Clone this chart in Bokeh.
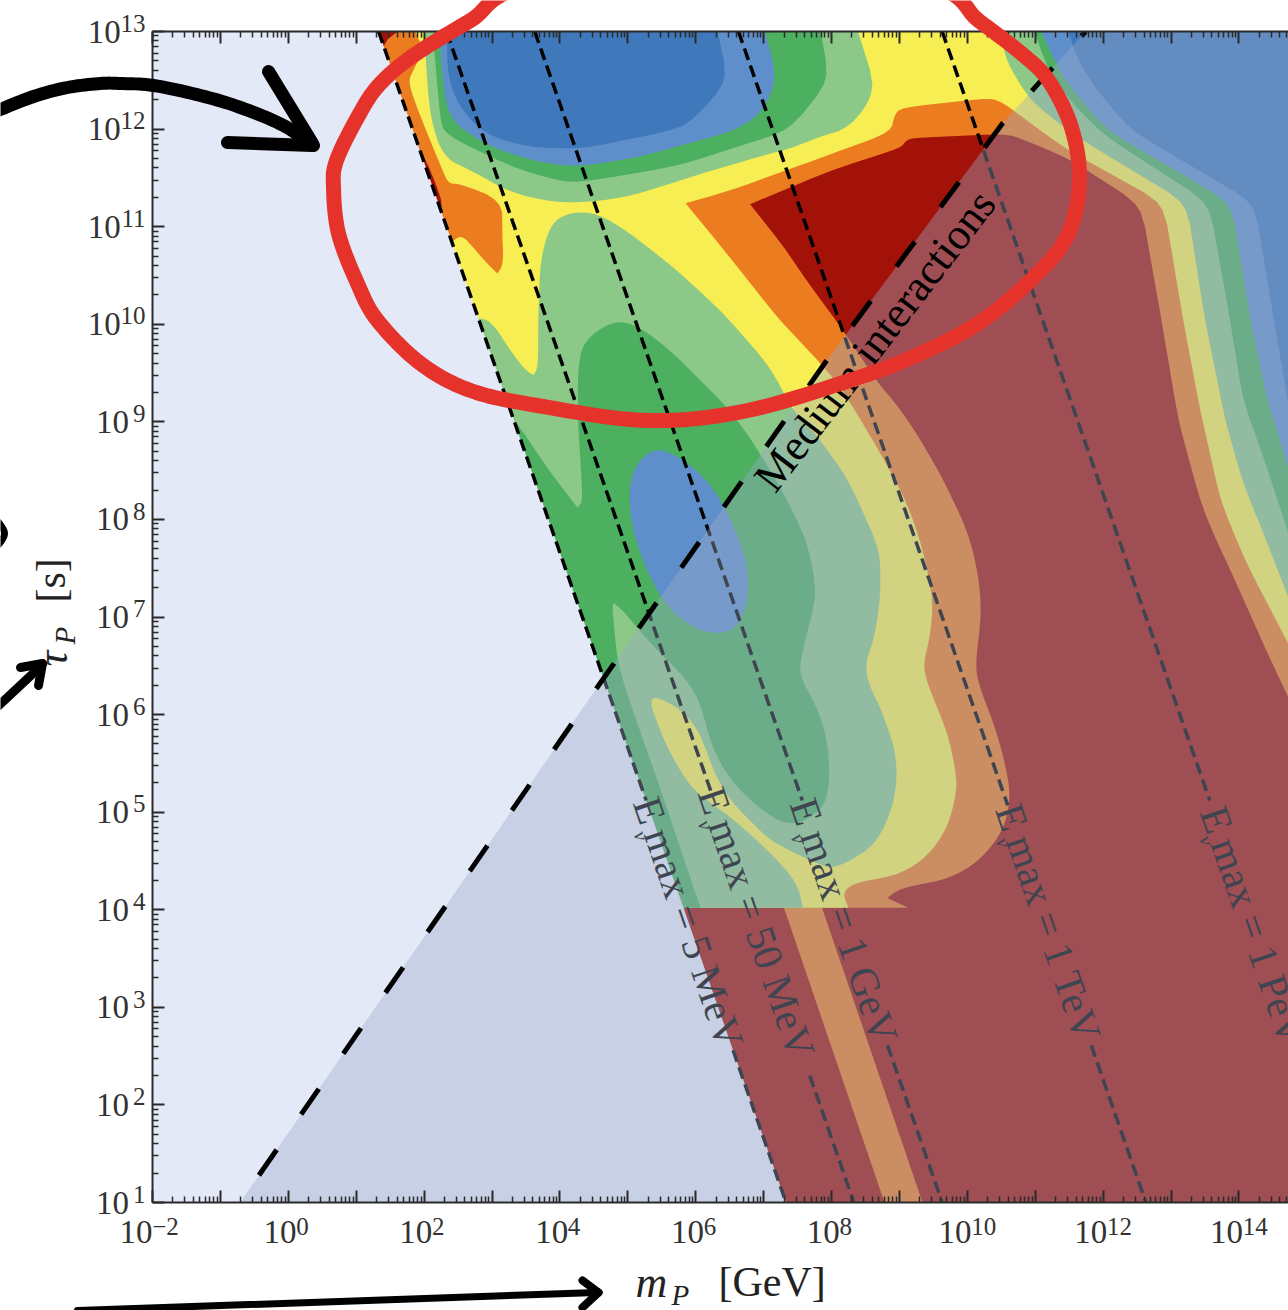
import numpy as np
from bokeh.core.properties import value
from bokeh.embed import file_html
from bokeh.models import AllLabels, FixedTicker, LogAxis
from bokeh.plotting import figure
from bokeh.resources import INLINE

# ---------- data: log10(m_P / GeV), log10(tau_P / s) ----------
orange_region = [(1.61,13),(14.8,13),(14.8,6.07),(14.42,6.63),(13.92,7.41),(13.62,7.86),(13.43,8.19),(13.11,9.01),
 (12.86,10.04),(12.56,11.22),(11.49,11.70),(10.80,11.90),(10.57,11.95),(9.20,11.91),(9.09,11.88),(9.03,11.81),
 (8.00,11.58),(6.80,11.23),(7.26,10.83),(7.66,10.42),(8.17,9.94),(8.69,9.39),(8.91,9.22),(9.20,8.94),(9.60,8.47),
 (10.0,7.89),(10.16,7.45),(10.21,7.04),(10.12,6.53),(10.16,6.32),(10.44,5.81),(10.60,5.36),(10.63,5.12),(10.53,4.81),
 (10.19,4.51),(9.75,4.32),(9.01,4.22),(8.82,4.12),(9.13,4.02),(5.48,4.02),(2.09,10.24),(2.09,10.96),(2.28,11.20),
 (2.21,11.37),(2.06,11.63),(1.94,11.78),(1.35,12.86)]
orange_stripe = [(7.30,4.02),(7.86,4.02),(9.34,1),(8.78,1)]
yellow_region = [(1.87,13),(14.8,13),(14.8,6.63),(14.09,7.58),(13.73,8.19),(13.43,9.12),(13.18,10.04),(12.89,11.24),
 (11.49,11.78),(11.07,11.99),(10.68,12.19),(10.52,12.27),(10.34,12.32),(9.03,12.22),(8.92,12.14),(8.88,11.97),
 (8.06,11.76),(7.42,11.60),(6.51,11.37),(5.85,11.24),(6.51,10.68),(7.20,10.07),(7.84,9.60),(8.17,9.32),(8.72,8.68),
 (9.12,8.16),(9.35,7.68),(9.50,7.17),(9.45,6.79),(9.35,6.52),(9.41,6.32),(9.71,5.81),(9.82,5.46),(9.85,5.22),
 (9.71,4.84),(9.41,4.54),(9.01,4.37),(8.76,4.33),(8.32,4.27),(8.16,4.17),(8.25,4.02),(5.48,4.02),(2.31,10.76),
 (2.43,10.86),(2.56,10.91),(2.72,10.79),(2.93,10.62),(3.08,10.52),(3.17,10.62),(3.15,10.93),(3.15,11.27),(2.53,11.44),
 (2.36,11.44),(2.27,11.58),(2.09,11.88),(1.84,12.32),(1.77,12.50),(1.84,12.60),(1.99,12.81)]
light_upper = [(2.02,13),(2.02,12.73),(2.09,12.12),(2.28,11.71),(2.68,11.58),(3.27,11.35),(3.90,11.25),(4.45,11.25),
 (5.08,11.32),(6.11,11.55),(7.10,11.75),(7.39,11.80),(7.78,11.91),(8.29,12.02),(8.66,12.40),(8.39,13)]
light_lower = [(2.68,10.06),(2.90,10.06),(3.05,9.97),(3.27,9.73),(3.49,9.53),(3.61,9.48),(3.68,9.56),(3.68,10.04),
 (3.71,10.65),(3.86,11.03),(4.15,11.15),(4.55,11.14),(5.04,10.93),(5.73,10.55),(6.41,10.11),(7.10,9.56),(7.44,9.10),
 (7.73,8.91),(8.23,8.43),(8.72,7.68),(8.72,7.17),(8.62,6.76),(8.50,6.53),(8.54,6.32),(8.76,6.01),(8.97,5.56),(8.94,5.12),
 (8.67,4.68),(8.23,4.48),(7.98,4.43),(7.88,4.45),(7.58,4.54),(7.29,4.64),(7.05,4.74),(6.76,4.94),(6.55,5.09),(6.32,5.33),
 (6.14,5.66),(6.02,5.86),(5.77,6.06),(5.43,6.18),(5.33,6.15),(5.38,6.01),(5.58,5.66),(5.88,5.30),(6.11,5.15),(6.51,4.95),
 (6.91,4.71),(7.35,4.40),(7.51,4.23),(7.58,4.02),(5.48,4.02)]
light_right = [(10.56,13),(10.52,12.77),(10.85,12.37),(11.07,12.21),(11.59,11.93),(13.23,11.24),(13.50,10.04),(13.80,9.01),
 (14.06,8.37),(14.36,7.86),(14.8,7.07),(14.8,13)]
green_upper = [(2.14,13),(2.14,12.88),(2.24,12.09),(2.31,11.95),(2.87,11.75),(3.42,11.58),(4.15,11.44),(5.14,11.55),
 (5.77,11.63),(7.38,11.99),(7.97,12.50),(7.84,13)]
green_right = [(10.99,13),(11.19,12.60),(11.55,12.26),(12.03,11.93),(13.56,11.24),(13.87,10.04),(14.06,9.22),(14.36,8.64),
 (14.8,7.71),(14.8,13)]
green_lower = [(3.12,9.05),(3.31,9.05),(3.81,8.53),(4.26,8.12),(4.34,8.19),(4.27,8.94),(4.27,9.12),(4.26,9.50),(4.34,9.83),
 (4.79,10.04),(5.14,9.99),(5.63,9.73),(6.41,9.19),(6.76,8.88),(7.25,8.33),(7.64,7.78),(7.79,7.24),(7.54,6.56),(7.54,6.38),
 (7.79,6.07),(7.94,5.74),(7.98,5.33),(7.88,5.02),(7.39,4.84),(6.91,5.05),(6.51,5.33),(6.24,5.66),(6.07,6.11),(5.88,6.35),
 (5.29,6.76),(4.93,7.07),(4.79,7.14),(4.77,7.10),(4.85,6.52),(5.11,5.97),(5.45,5.30),(6.07,4.02),(5.48,4.02)]
midblue_upper = [(2.25,13),(2.24,12.77),(2.34,12.12),(2.87,11.85),(3.56,11.68),(4.20,11.61),(5.14,11.71),(6.61,11.99),
 (7.0,12.19),(7.20,12.53),(7.02,13)]
midblue_blob = [(5.38,8.74),(5.08,8.53),(5.01,8.23),(5.08,7.86),(5.29,7.45),(5.58,7.10),(5.96,6.89),(6.32,6.82),(6.61,6.89),
 (6.77,7.17),(6.76,7.55),(6.55,7.96),(6.22,8.37),(5.77,8.64)]
midblue_right = [(11.09,13),(11.40,12.53),(12.05,11.99),(13.89,11.24),(14.17,10.04),(14.42,9.22),(14.8,8.37),(14.8,13)]
blue_upper = [(2.34,13),(2.34,12.57),(2.49,12.26),(2.87,11.95),(3.56,11.81),(4.34,11.80),(5.67,11.99),(5.96,12.09),
 (6.48,12.50),(6.32,13)]
blue_right = [(11.49,13),(11.59,12.77),(11.83,12.47),(12.40,11.99),(14.23,11.24),(14.54,9.94),(14.8,8.91),(14.8,13)]
medium_line = [(11.74,13),(10.52,12.06),(7.91,9.61),(4.52,6.25),(-0.71,1.0)]
line_names = ["5 MeV", "50 MeV", "1 GeV", "1 TeV", "1 PeV"]
line_intercepts = [7.83, 8.83, 10.13, 13.13, 16.13]
line_slope = -0.5
gap_upper = [5.12, 5.22, 5.12, 5.07, 5.12]
gap_lower = [2.56, 2.30, 2.61, 2.61, 2.30]
label_tau = [3.87, 3.87, 3.89, 3.87, 3.84]
nu_tau = [4.76, 4.87, 4.73, 4.69, 4.71]
x_exponents = list(range(-2, 15))
y_exponents = list(range(1, 14))

# ---------- styles ----------
SERIF = "Liberation Serif"
BG, RED, ORANGE, YELLOW = "#e4e9f8", "#a21208", "#ec7c20", "#f6ee52"
LIGHT, GREEN, MID, BLUE = "#8cc888", "#4cb060", "#5e8fcb", "#3f78bb"
XMAX = 14.73
TICK_FONT = 33
NBSP = "\u00a0"
W, H = 1288, 1310


def tick_px(k):
    return 152.2 + (k + 2) * 67.9


def tick_py(k):
    return 31 + (13 - k) * 97.6


def catmull(pts, closed=False, n=10):
    pts = [np.array(q, float) for q in pts]
    if closed:
        pts = [pts[-1]] + pts + pts[:2]
    else:
        pts = [pts[0]] + pts + [pts[-1]]
    out = []
    for i in range(1, len(pts) - 2):
        p0, p1, p2, p3 = pts[i - 1], pts[i], pts[i + 1], pts[i + 2]
        for t in np.linspace(0, 1, n, endpoint=False):
            out.append(0.5 * (2 * p1 + (p2 - p0) * t + (2 * p0 - 5 * p1 + 4 * p2 - p3) * t**2
                              + (3 * p1 - p0 - 3 * p2 + p3) * t**3))
    out.append(pts[1] if closed else pts[-1])
    return np.array(out)


def soften(pts, passes=2, cap=0.16):
    """Round the polygon's corners for drawing; frame-edge and sharp corners stay."""
    pts = [tuple(q) for q in pts]
    for _ in range(passes):
        new = []
        m = len(pts)
        for i in range(m):
            a, b, c = np.array(pts[i - 1]), np.array(pts[i]), np.array(pts[(i + 1) % m])
            u, v = (a - b) * (1, 1.44), (c - b) * (1, 1.44)
            lu, lv = np.hypot(*u), np.hypot(*v)
            ang = np.degrees(np.arccos(np.clip(np.dot(u, v) / max(lu * lv, 1e-9), -1, 1)))
            edge = b[1] >= 12.99 or b[0] >= 14.7 or b[1] <= 4.03
            if edge or ang < 95:
                new.append(tuple(b))
                continue
            du, dv = min(0.25, cap / max(lu, 1e-9)), min(0.25, cap / max(lv, 1e-9))
            new.append(tuple(b + (a - b) * du))
            new.append(tuple(b + (c - b) * dv))
        pts = new
    return np.array(pts)


p = figure(width=W, height=H, x_axis_type="log", y_axis_type="log",
           x_range=(1e-2, 10**XMAX), y_range=(1e1, 1e13), output_backend="svg", toolbar_location=None,
           min_border_left=152, min_border_right=0, min_border_top=31, min_border_bottom=108,
           background_fill_color=BG, border_fill_color="white")
p.grid.visible = False
p.outline_line_color = None


def region(pts, color):
    arr = soften(pts)
    p.patch(10 ** arr[:, 0], 10 ** arr[:, 1], fill_color=color, line_color=None)


def plain_region(pts, color):
    arr = np.array(pts, float)
    p.patch(10 ** arr[:, 0], 10 ** arr[:, 1], fill_color=color, line_color=None)


plain_region([(-2.5, 0.9), (14.8, 0.9), (14.8, 13.1), (-2.5, 13.1)], RED)
plain_region(orange_stripe, ORANGE)
region(orange_region, ORANGE)
region(yellow_region, YELLOW)
for pts in (light_upper, light_lower, light_right):
    region(pts, LIGHT)
for pts in (green_upper, green_lower, green_right):
    region(pts, GREEN)
for pts in (midblue_upper, midblue_blob, midblue_right):
    region(pts, MID)
for pts in (blue_upper, blue_right):
    region(pts, BLUE)

# everything left of the lowest-energy line is excluded
a0 = line_intercepts[0]
plain_region([(-2.5, 0.9), (a0 + line_slope * 0.9, 0.9), (a0 + line_slope * 13.1, 13.1), (-2.5, 13.1)], BG)

for name, a, hi, lo, lt, nt in zip(line_names, line_intercepts, gap_upper, gap_lower, label_tau, nu_tau):
    for t0, t1 in ((13, hi), (lo, 1)):
        ts = np.array([t0, t1], float)
        p.line(10 ** (a + line_slope * ts), 10**ts, line_color="black", line_width=3.5, line_dash="12 6")
    p.text([10 ** (a + line_slope * lt)], [10**lt], text=[f"E\u2009max = {name}"], angle=-71, angle_units="deg",
           text_font=value(SERIF), text_font_size="41px", text_color="black",
           text_align="center", text_baseline="middle")
    p.text([10 ** (a + line_slope * nt)], [10**nt], text=["ν"], angle=-71, angle_units="deg", x_offset=-17,
           text_font=value(SERIF), text_font_size="20px", text_font_style="italic", text_color="black",
           text_align="center", text_baseline="middle")

# medium-interaction overlay
med = np.array(medium_line)
overlay = np.vstack([[[14.8, 13], [14.8, 1]], med[::-1]])
p.patch(10 ** overlay[:, 0], 10 ** overlay[:, 1], fill_color="#9baac9", fill_alpha=0.4, line_color=None)
p.line(10 ** med[:, 0], 10 ** med[:, 1], line_color="black", line_width=5, line_dash="31 43", line_dash_offset=25)
p.text([10**8.64], [10**9.83], text=["Medium interactions"], angle=52.5, angle_units="deg",
       text_font=value(SERIF), text_font_size="44px", text_color="black",
       text_align="center", text_baseline="middle")

# ---------- axes ----------
x_major = [10.0**k for k in x_exponents]
y_major = [10.0**k for k in y_exponents]
x_minor = [d * 10.0**k for k in x_exponents for d in range(2, 10)]
y_minor = [d * 10.0**k for k in y_exponents[:-1] for d in range(2, 10)]


def pad(k):
    return 4 if k < 0 else (3 if k >= 10 else 2)


x_labels = {10.0**k: ("10" + NBSP * pad(k) if k % 2 == 0 else "") for k in x_exponents}
y_labels = {10.0**k: "10" + NBSP * pad(k) for k in y_exponents}


def style(ax):
    ax.axis_line_color = "#2a2a2a"
    ax.axis_line_width = 2
    ax.major_tick_line_color = "#2a2a2a"
    ax.minor_tick_line_color = "#2a2a2a"
    ax.major_tick_line_width = 2
    ax.minor_tick_line_width = 1.5
    ax.major_tick_in = 12
    ax.major_tick_out = 0
    ax.minor_tick_in = 6
    ax.minor_tick_out = 0
    ax.major_label_text_font = SERIF
    ax.major_label_text_font_size = f"{TICK_FONT}px"
    ax.major_label_text_color = "#333333"
    ax.major_label_standoff = 7
    ax.major_label_policy = AllLabels()


xa, ya = p.xaxis[0], p.yaxis[0]
xa.ticker = FixedTicker(ticks=x_major, minor_ticks=x_minor)
ya.ticker = FixedTicker(ticks=y_major, minor_ticks=y_minor)
xa.major_label_overrides = x_labels
ya.major_label_overrides = y_labels
style(xa)
style(ya)
xa.major_label_standoff = 11
top = LogAxis(ticker=FixedTicker(ticks=x_major, minor_ticks=x_minor))
style(top)
top.major_label_text_color = None
top.major_label_text_font_size = "1px"
top.major_label_standoff = 0
p.add_layout(top, "above")

# ---------- transparent layer in page pixels: axis titles, exponents, hand-drawn marks ----------
q = figure(width=W, height=H, x_range=(0, W), y_range=(H, 0), output_backend="svg", toolbar_location=None,
           x_axis_location=None, y_axis_location=None, min_border=0,
           background_fill_color=None, border_fill_color=None,
           styles={"position": "absolute", "left": "0px", "top": "0px"})
q.grid.visible = False
q.outline_line_color = None


def label(px, py, text, size, italic=False, angle=0.0, align="left", color="#222222"):
    q.text([px], [py], text=[text], text_font=value(SERIF), text_font_size=f"{size}px",
           text_font_style="italic" if italic else "normal", text_color=color,
           angle=angle, angle_units="deg", text_align=align, text_baseline="alphabetic")


for k in y_exponents:
    label(145, tick_py(k) - 8.5, str(k), 25, align="right", color="#333333")
for k in x_exponents:
    if k % 2 == 0:
        w = 30 + pad(k) * TICK_FONT * 0.25
        left = tick_px(k) + w / 2 - pad(k) * TICK_FONT * 0.25 + 1
        label(left, 1225.5, str(k).replace("-", "\u2212"), 25, color="#333333")

label(635, 1282, "m", 44, True)
label(671, 1294, "P", 29, True)
label(718, 1281, "[GeV]", 42)
label(52, 666, "τ", 44, True, 90)
label(64, 644, "P", 29, True, 90)
label(50, 602, "[s]", 42, False, 90)

RING = [(333,187),(338,233),(357,283),(377,320),(420,363),(470,390),(537,405),(647,420),(747,410),(858,377),(920,353),
        (982,320),(1037,273),(1068,233),(1079,180),(1071,127),(1048,80),(1021,53),(978,20),(930,-15),(750,-40),(530,-15),
        (470,20),(413,55),(378,85),(357,117),(336,160)]
ring = catmull(RING, closed=True)
q.line(ring[:, 0], ring[:, 1], line_color="#e5332c", line_width=15, line_join="round", line_cap="round")


def stroke(pts, width, curved=False):
    arr = catmull(pts) if curved else np.array(pts, float)
    q.line(arr[:, 0], arr[:, 1], line_color="black", line_width=width, line_cap="round", line_join="round")


stroke([(-5,111),(33,96),(67,87),(100,83),(120,83),(153,85),(200,95),(240,107),(283,125),(313,145)], 13, True)
stroke([(268,71),(312,143)], 13)
stroke([(227,142),(312,145)], 13)
stroke([(-5,518),(4,533),(-5,548)], 7, True)
stroke([(-5,708),(40,666)], 9)
stroke([(20,667),(42,663)], 9)
stroke([(38,685),(42,663)], 9)
stroke([(77,1310),(596,1292)], 7)
stroke([(582,1280),(598,1292)], 8)
stroke([(582,1307),(598,1292)], 8)

open("out.html", "w").write(file_html([p, q], INLINE))
